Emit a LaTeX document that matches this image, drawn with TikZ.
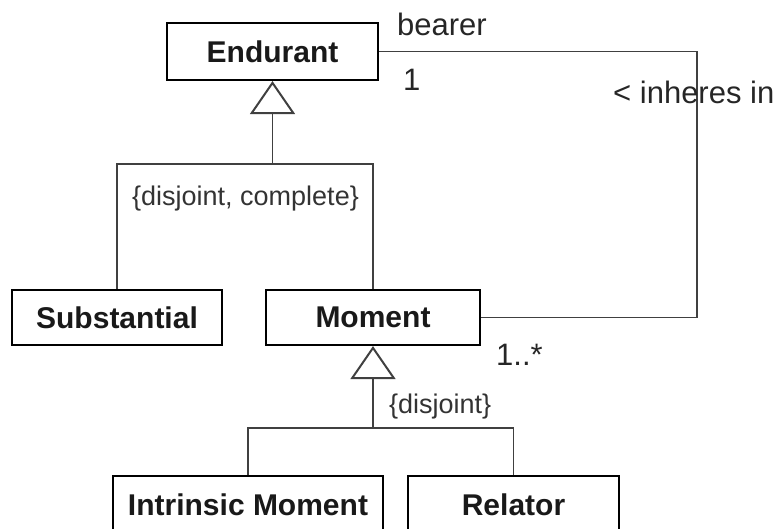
\documentclass[tikz,border=0pt]{standalone}
\usepackage{fontspec}
\setmainfont{Liberation Sans}
\usetikzlibrary{arrows.meta}
\begin{document}
\begin{tikzpicture}[x=1pt,y=-1pt,
  classbox/.style={draw=black,line width=2.2pt,rectangle,inner sep=0pt,
    font=\fontsize{30}{36}\selectfont\bfseries,text=black!90},
  conn/.style={draw=black!75,line width=1.6pt},
  gen/.style={conn,-{Triangle[open,length=33pt,width=45pt,line width=2pt]}},
  lbl/.style={inner sep=0pt,font=\fontsize{31}{36}\selectfont,text=black!85},
  cons/.style={inner sep=0pt,font=\fontsize{27}{32}\selectfont,text=black!80}]
\useasboundingbox (0,0) rectangle (777,528);
\node[classbox,minimum width=211pt,minimum height=57pt] (end) at (272.5,51.5) {Endurant};
\node[classbox,minimum width=210pt,minimum height=55pt] (sub) at (117,317.5) {Substantial};
\node[classbox,minimum width=214pt,minimum height=55pt] (mom) at (373,317.5) {Moment};
\node[classbox,minimum width=270pt,minimum height=57pt] (intr) at (248,504.5) {Intrinsic Moment};
\node[classbox,minimum width=211pt,minimum height=57pt] (rel) at (513.5,504.5) {Relator};
\coordinate (j1) at (272.5,164);
\coordinate (j2) at (373,428);
\coordinate (c1) at (697,317.5);
\coordinate (c2) at (697,51.5);
\draw[gen] (j1) -- (end.south);
\draw[conn] (sub.north) |- (j1) -| (mom.north);
\draw[gen] (j2) -- (mom.south);
\draw[conn] (intr.north) |- (j2) -| (rel.north);
\draw[conn] (mom.east) -- (c1) -- (c2) -- (end.east);
\node[lbl,anchor=base west] (bearer) at (397,35) {bearer};
\node[lbl,anchor=base west] (one) at (403,90) {1};
\node[lbl,anchor=base west] (inh) at (613,103) {< inheres in};
\node[lbl,anchor=base west] (many) at (496,365) {1..*};
\node[cons,anchor=base west] (dc) at (132,205) {\{disjoint, complete\}};
\node[cons,anchor=base west] (dj) at (389,413) {\{disjoint\}};
\end{tikzpicture}
\end{document}
